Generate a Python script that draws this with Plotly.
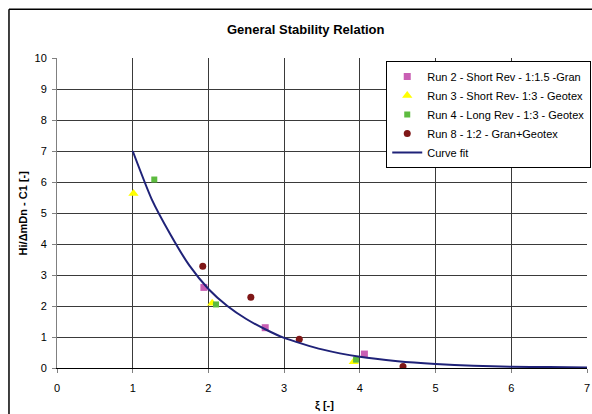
import plotly.graph_objects as go

# Data
run2_x = [1.94, 2.75, 4.06]
run2_y = [2.60, 1.30, 0.45]
run3_x = [1.01, 2.05, 3.92]
run3_y = [5.63, 2.09, 0.20]
run4_x = [1.285, 2.10, 3.95]
run4_y = [6.08, 2.05, 0.27]
run8_x = [1.925, 2.56, 3.20, 4.57]
run8_y = [3.28, 2.28, 0.93, 0.05]
fit_x = [1, 1.25, 1.5, 1.75, 2, 2.25, 2.5, 2.75, 3, 3.5, 4, 4.5, 5, 5.5, 6, 6.5, 7]
fit_y = [7.0, 5.45, 4.3, 3.3, 2.55, 2.0, 1.58, 1.25, 0.97, 0.6, 0.36, 0.22, 0.13, 0.07, 0.04, 0.03, 0.02]

x_ticks = [0, 1, 2, 3, 4, 5, 6, 7]
y_ticks = list(range(0, 11))

FONT = "Arial, Liberation Sans, sans-serif"

fig = go.Figure()
fig.add_trace(go.Scatter(x=run2_x, y=run2_y, mode="markers", name="Run 2 - Short Rev - 1:1.5 -Gran",
                         marker=dict(symbol="square", size=7, color="#C95FB4")))
fig.add_trace(go.Scatter(x=run3_x, y=run3_y, mode="markers", name="Run 3 - Short Rev- 1:3 - Geotex",
                         marker=dict(symbol="triangle-up", size=9, color="#FFFF00")))
fig.add_trace(go.Scatter(x=run4_x, y=run4_y, mode="markers", name="Run 4 - Long Rev - 1:3 - Geotex",
                         marker=dict(symbol="square", size=6, color="#5DBB3F")))
fig.add_trace(go.Scatter(x=run8_x, y=run8_y, mode="markers", name="Run 8 - 1:2 - Gran+Geotex",
                         marker=dict(symbol="circle", size=7, color="#7F1717")))
fig.add_trace(go.Scatter(x=fit_x, y=fit_y, mode="lines", name="Curve fit",
                         line=dict(color="#1F2278", width=2, shape="spline", smoothing=0.6)))

fig.update_layout(
    width=592, height=414,
    margin=dict(l=57, r=5, t=58, b=46, autoexpand=False),
    paper_bgcolor="white", plot_bgcolor="white",
    font=dict(family=FONT, size=11, color="black"),
    showlegend=True,
    legend=dict(x=1.008, y=0.99, xanchor="right", yanchor="top",
                bgcolor="white", bordercolor="black", borderwidth=1,
                font=dict(family=FONT, size=11, color="black"),
                tracegroupgap=0, itemwidth=30),
    xaxis=dict(range=[0, 7], tickvals=x_ticks, ticks="outside", ticklen=4, tickcolor="#808080",
               showgrid=True, gridcolor="#3a3a3a", gridwidth=1,
               showline=True, linecolor="black", linewidth=1, zeroline=False,
               ticklabelstandoff=6,
               tickfont=dict(family=FONT, size=11)),
    yaxis=dict(range=[0, 10], tickvals=y_ticks, ticks="outside", ticklen=4, tickcolor="#808080",
               showgrid=True, gridcolor="#3a3a3a", gridwidth=1,
               showline=True, linecolor="#808080", linewidth=1, zeroline=False,
               ticklabelstandoff=3,
               tickfont=dict(family=FONT, size=11)),
    annotations=[
        dict(text="<b>General Stability Relation</b>", xref="paper", yref="paper",
             x=0.47, y=1.0926, xanchor="center", yanchor="middle",
             showarrow=False, font=dict(family=FONT, size=13)),
        dict(text="<b>Hi/ΔmDn - C1 [-]</b>", xref="paper", yref="paper",
             x=-0.064, y=0.499, xanchor="center", yanchor="middle",
             textangle=-90, showarrow=False, font=dict(family=FONT, size=11)),
        dict(text="<b>ξ [-]</b>", xref="paper", yref="paper",
             x=0.504, y=-0.12, xanchor="center", yanchor="middle",
             showarrow=False, font=dict(family=FONT, size=11)),
    ],
    shapes=[
        dict(type="line", xref="paper", yref="paper", x0=-0.0906, x1=-0.0906, y0=-0.4, y1=1.157,
             line=dict(color="black", width=1.5), layer="below"),
        dict(type="line", xref="paper", yref="paper", x0=-0.0906, x1=1.2, y0=1.157, y1=1.157,
             line=dict(color="black", width=1.5), layer="below"),
    ],
)

fig.write_html("out.html")
